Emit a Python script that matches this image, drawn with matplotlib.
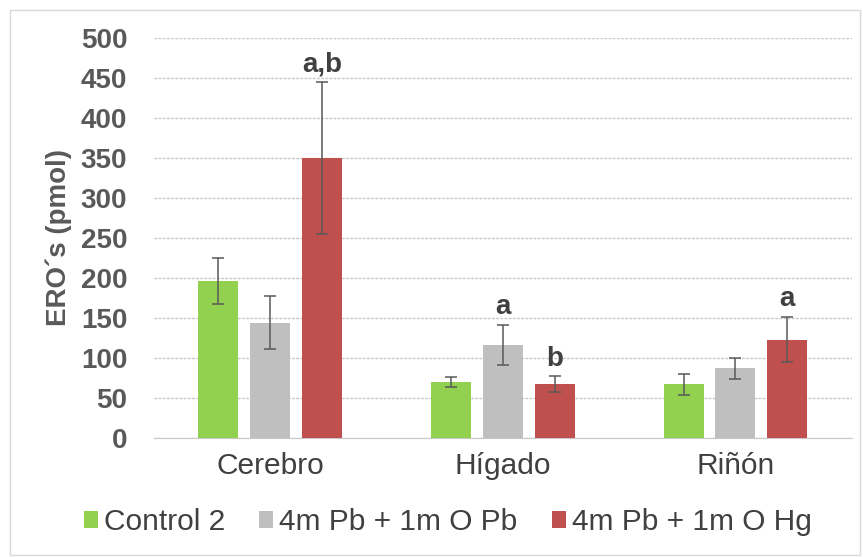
import numpy as np
import matplotlib.pyplot as plt
from matplotlib.patches import Rectangle

plt.rcParams['font.family'] = ['Liberation Sans', 'DejaVu Sans']

organos = ['Cerebro', 'Hígado', 'Riñón']
series = ['Control 2', '4m Pb + 1m O Pb', '4m Pb + 1m O Hg']
control = [196, 70, 67]
pb_pb = [144, 116, 87]
pb_hg = [350, 67, 123]
err_control = [29, 6, 13]
err_pb_pb = [33, 25, 13]
err_pb_hg = [95, 10, 28]
letras = {(2, 0): 'a,b', (1, 1): 'a', (2, 1): 'b', (2, 2): 'a'}

colores = ['#92D050', '#BFBFBF', '#C0504D']
valores = [control, pb_pb, pb_hg]
errores = [err_control, err_pb_pb, err_pb_hg]

fig = plt.figure(figsize=(8.63, 5.57), dpi=100)
ax = fig.add_axes([0.178, 0.2136, 0.809, 0.7184])

x = np.arange(len(organos))
ancho = 0.172
paso = 0.223
for i in range(3):
    pos = x + (i - 1) * paso
    ax.bar(pos, valores[i], ancho, color=colores[i], label=series[i], zorder=3)
    ax.errorbar(pos, valores[i], yerr=errores[i], fmt='none', ecolor='#595959',
                elinewidth=1.1, capsize=4.5, capthick=1.1, zorder=4)

for (i, j), txt in letras.items():
    top = valores[i][j] + errores[i][j]
    ax.text(x[j] + (i - 1) * paso, top + 6, txt, ha='center', va='bottom',
            fontsize=20, fontweight='bold', color='#404040', zorder=5)

ax.set_xlim(-0.5, 2.5)
ax.set_ylim(0, 500)
ax.set_yticks(np.arange(0, 501, 50))
ax.set_xticks(x)
ax.set_xticklabels(organos, fontsize=21.5, color='#404040')
ax.tick_params(axis='y', labelsize=20, colors='#595959', length=0, pad=19)
ax.tick_params(axis='x', length=0, pad=10)
for lab in ax.get_yticklabels():
    lab.set_fontweight('bold')
ax.grid(axis='y', color='#C8C8C8', linestyle=(0, (2, 1)), linewidth=1, zorder=0)
for s in ['top', 'right', 'left']:
    ax.spines[s].set_visible(False)
ax.spines['bottom'].set_color('#C8C8C8')
ax.set_ylabel('ERO´s (pmol)', fontsize=20, fontweight='bold', color='#595959', labelpad=6)

leg = fig.legend(loc='center', bbox_to_anchor=(0.519, 0.063), ncol=3, frameon=False,
                 fontsize=21.5, handlelength=0.47, handleheight=0.47, handletextpad=0.2,
                 columnspacing=1.15)
for t in leg.get_texts():
    t.set_color('#404040')

fig.patches.append(Rectangle((0.012, 0.004), 0.985, 0.978, transform=fig.transFigure,
                             fill=False, edgecolor='#D9D9D9', linewidth=1))

fig.savefig('out.png', dpi=100)
